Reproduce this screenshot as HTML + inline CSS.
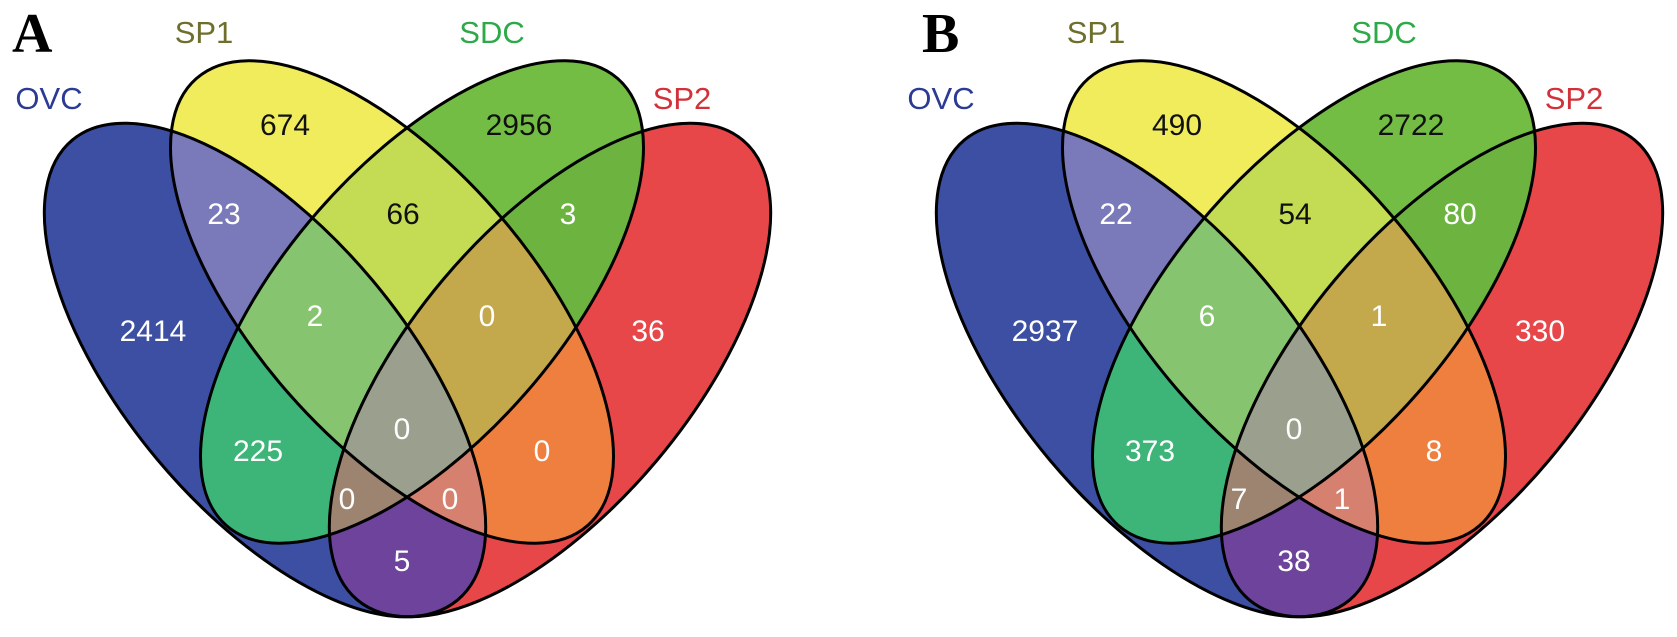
<!DOCTYPE html>
<html><head><meta charset="utf-8"><style>
html,body{margin:0;padding:0;background:#fff;width:1677px;height:637px;overflow:hidden;}
svg{display:block;}
text{font-family:"Liberation Sans",Arial,sans-serif;}
</style></head><body>
<svg id="chart" width="1677" height="637" viewBox="0 0 1677 637" xmlns="http://www.w3.org/2000/svg">
<defs id="defs"></defs>
<text x="12" y="52" font-weight="bold" font-size="56" fill="#000" style="font-family:'Liberation Serif',serif">A</text>
<text x="922" y="52" font-weight="bold" font-size="56" fill="#000" style="font-family:'Liberation Serif',serif">B</text>
</svg>
<script>
// data
const setNames = ["OVC","SP1","SDC","SP2"];
const regionKeys = ["1000","0100","0010","0001","1100","0110","0011","1010","0101","1001","1110","0111","1011","1101","1111"];
const countsA = [2414,674,2956,36,23,66,3,225,0,5,2,0,0,0,0];
const countsB = [2937,490,2722,330,22,54,80,373,8,38,6,1,7,1,0];
const panels = [{id:"a", dx:0, counts:countsA},{id:"b", dx:892, counts:countsB}];

// geometry / style (layout, not data)
const ellipses = [
  {cx:265, cy:370, rx:300, ry:140, rot:50},
  {cx:392, cy:302, rx:297, ry:138, rot:48.8},
  {cx:422, cy:302, rx:297, ry:138, rot:-48.8},
  {cx:550, cy:370, rx:300, ry:140, rot:-50}
];
const regionColor = {"1000":"#3c4fa3","0100":"#f1ec5c","0010":"#74bd44","0001":"#e84749",
 "1100":"#7a7abb","0110":"#c3dc53","0011":"#6cb33f","1010":"#3db578","0101":"#ef7f3e","1001":"#6d439b",
 "1110":"#86c46f","0111":"#c4a84c","1011":"#9c8470","1101":"#d6816f","1111":"#9aa08d"};
const labelPos = {"1000":[153,330],"0100":[285,124],"0010":[519,124],"0001":[648,330],
 "1100":[224,213],"0110":[403,213],"0011":[568,213],"1010":[258,450],"0101":[542,450],"1001":[402,560],
 "1110":[315,315],"0111":[487,315],"1011":[347,498],"1101":[450,498],"1111":[402,428]};
const darkText = {"0100":1,"0110":1,"0010":1};
const titles = [["OVC",49,98,"#2b3a94"],["SP1",204,32,"#6e6e2d"],["SDC",492,32,"#2ea94a"],["SP2",682,98,"#d3313a"]];

const NS="http://www.w3.org/2000/svg";
const svg=document.getElementById("chart");
const defs=document.getElementById("defs");
function mk(tag,attrs){const e=document.createElementNS(NS,tag);for(const k in attrs)e.setAttribute(k,attrs[k]);return e;}
function ell(i){const g=ellipses[i];return mk("ellipse",{cx:g.cx,cy:g.cy,rx:g.rx,ry:g.ry,transform:`rotate(${g.rot} ${g.cx} ${g.cy})`});}
for(let i=0;i<4;i++){const cp=mk("clipPath",{id:"clip"+i,clipPathUnits:"userSpaceOnUse"});cp.appendChild(ell(i));defs.appendChild(cp);}

panels.forEach(p=>{
  const g=mk("g",{transform:`translate(${p.dx},0)`});
  
  
  svg.appendChild(g);
  const order=regionKeys.slice().sort((a,b)=>a.split("1").length-b.split("1").length);
  order.forEach(key=>{
    const idx=[];for(let i=0;i<4;i++)if(key[i]==="1")idx.push(i);
    let parent=g;
    for(let j=1;j<idx.length;j++){const c=mk("g",{"clip-path":`url(#clip${idx[j]})`});parent.appendChild(c);parent=c;}
    const e=ell(idx[0]);e.setAttribute("fill",regionColor[key]);
    
    
    parent.appendChild(e);
  });
  for(let i=0;i<4;i++){
    const e=ell(i);e.setAttribute("fill","none");e.setAttribute("stroke","#000");e.setAttribute("stroke-width","3");
    
    
    g.appendChild(e);
  }
  regionKeys.forEach((key,k)=>{
    const pos=labelPos[key];
    const t=mk("text",{x:pos[0],y:pos[1]+11,"text-anchor":"middle","font-size":30,fill:darkText[key]?"#111":"#fff"});
    t.textContent=String(p.counts[k]);
    
    
    g.appendChild(t);
  });
  titles.forEach((tt,i)=>{
    const t=mk("text",{x:tt[1],y:tt[2]+11,"text-anchor":"middle","font-size":31,fill:tt[3]});
    t.textContent=setNames[i];
    
    
    g.appendChild(t);
  });
});
</script>
</body></html>
